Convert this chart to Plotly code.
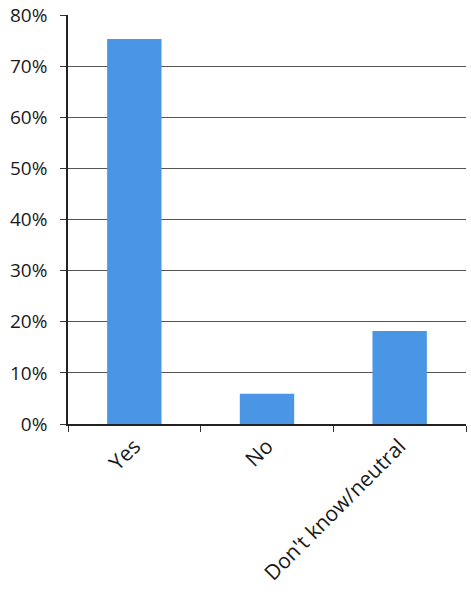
import plotly.graph_objects as go

categories = ["Yes", "No", "Don't know/neutral"]
values = [0.753, 0.059, 0.182]
y_ticks = [0, 0.1, 0.2, 0.3, 0.4, 0.5, 0.6, 0.7, 0.8]
y_tick_labels = ["0%", "10%", "20%", "30%", "40%", "50%", "60%", "70%", "80%"]

fig = go.Figure(go.Bar(
    x=categories, y=values, width=0.41,
    marker=dict(color="#4A96E4", line=dict(width=0)),
))
fig.update_layout(
    width=471, height=596,
    margin=dict(l=68, r=5, t=15, b=172),
    paper_bgcolor="white", plot_bgcolor="white",
    font=dict(family="Open Sans, Liberation Sans, sans-serif", color="#1a1a1a"),
    showlegend=False,
)
fig.update_yaxes(
    range=[0, 0.8], tickvals=y_ticks, ticktext=y_tick_labels,
    showgrid=True, gridcolor="#555555", gridwidth=1,
    showline=True, linecolor="#222222", linewidth=1.5,
    ticks="outside", ticklen=6, tickcolor="#333333", ticklabelstandoff=9,
    tickfont=dict(size=19), zeroline=False, automargin=False,
)
fig.update_xaxes(
    showline=True, linecolor="#222222", linewidth=1.5,
    ticks="outside", ticklen=6, tickcolor="#333333", tickson="boundaries",
    tickangle=-45, tickfont=dict(size=21), showgrid=False, automargin=False,
)
fig.write_html("out.html", config={"displayModeBar": False},
               post_script="document.body.style.margin='0';")
